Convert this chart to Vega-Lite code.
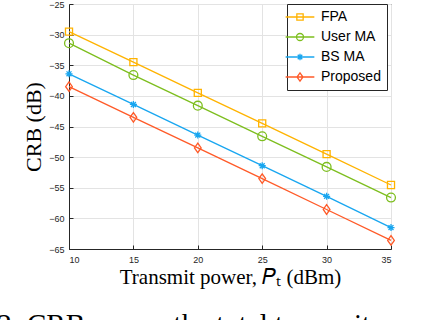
{
  "$schema": "https://vega.github.io/schema/vega-lite/v6.json",
  "width": 322,
  "height": 245,
  "autosize": {"type": "none"},
  "padding": {"left": 69, "top": 4, "right": 35, "bottom": 71},
  "background": "white",
  "title": {
    "text": "Fig. 2: CRB versus the total transmit power",
    "orient": "bottom",
    "anchor": "start",
    "frame": "group",
    "offset": 24,
    "dx": -125,
    "font": "Liberation Serif",
    "fontSize": 29,
    "fontWeight": "normal",
    "color": "black"
  },
  "data": {
    "values": [
      {"series": "FPA", "p": 10, "crb": -29.5},
      {"series": "FPA", "p": 15, "crb": -34.5},
      {"series": "FPA", "p": 20, "crb": -39.5},
      {"series": "FPA", "p": 25, "crb": -44.5},
      {"series": "FPA", "p": 30, "crb": -49.5},
      {"series": "FPA", "p": 35, "crb": -54.55},
      {"series": "User MA", "p": 10, "crb": -31.4},
      {"series": "User MA", "p": 15, "crb": -36.6},
      {"series": "User MA", "p": 20, "crb": -41.6},
      {"series": "User MA", "p": 25, "crb": -46.6},
      {"series": "User MA", "p": 30, "crb": -51.6},
      {"series": "User MA", "p": 35, "crb": -56.6},
      {"series": "BS MA", "p": 10, "crb": -36.4},
      {"series": "BS MA", "p": 15, "crb": -41.4},
      {"series": "BS MA", "p": 20, "crb": -46.4},
      {"series": "BS MA", "p": 25, "crb": -51.4},
      {"series": "BS MA", "p": 30, "crb": -56.4},
      {"series": "BS MA", "p": 35, "crb": -61.5},
      {"series": "Proposed", "p": 10, "crb": -38.5},
      {"series": "Proposed", "p": 15, "crb": -43.5},
      {"series": "Proposed", "p": 20, "crb": -48.5},
      {"series": "Proposed", "p": 25, "crb": -53.5},
      {"series": "Proposed", "p": 30, "crb": -58.55},
      {"series": "Proposed", "p": 35, "crb": -63.6}
    ]
  },
  "encoding": {
    "x": {
      "field": "p", "type": "quantitative",
      "scale": {"domain": [10, 35], "nice": false, "zero": false},
      "axis": {
        "values": [10, 15, 20, 25, 30, 35],
        "title": "Transmit power, 𝑃ₜ (dBm)",
        "titleFont": "Liberation Serif", "titleFontSize": 21, "titleFontWeight": "normal",
        "titleColor": "black", "titlePadding": 2,
        "labelFont": "Liberation Sans", "labelFontSize": 9, "labelColor": "#262626",
        "labelPadding": 10, "tickSize": -4, "tickColor": "#262626",
        "domainColor": "#262626",
        "grid": true, "gridColor": "#e3e3e3"
      }
    },
    "y": {
      "field": "crb", "type": "quantitative",
      "scale": {"domain": [-65, -25], "nice": false, "zero": false},
      "axis": {
        "values": [-65, -60, -55, -50, -45, -40, -35, -30, -25],
        "title": "CRB (dB)",
        "titleFont": "Liberation Serif", "titleFontSize": 22, "titleFontWeight": "normal",
        "titleColor": "black", "titlePadding": 3,
        "labelFont": "Liberation Sans", "labelFontSize": 9, "labelColor": "#262626",
        "labelPadding": 9, "tickSize": -4, "tickColor": "#262626",
        "domainColor": "#262626",
        "grid": true, "gridColor": "#e3e3e3"
      }
    }
  },
  "layer": [
    {
      "mark": {"type": "line", "strokeWidth": 1.3},
      "encoding": {
        "color": {
          "field": "series", "type": "nominal", "legend": null,
          "scale": {
            "domain": ["FPA", "User MA", "BS MA", "Proposed"],
            "range": ["#FFB300", "#7DBE1E", "#18A6F0", "#FF5A28"]
          }
        }
      }
    },
    {
      "mark": {"type": "point", "filled": false, "strokeWidth": 1.3, "size": 50, "opacity": 1},
      "encoding": {
        "color": {"field": "series", "type": "nominal", "legend": null},
        "shape": {
          "field": "series", "type": "nominal", "legend": null,
          "scale": {
            "domain": ["FPA", "User MA", "BS MA", "Proposed"],
            "range": [
              "M-1,-1H1V1H-1Z",
              "M-1.25,0A1.25,1.25,0,1,0,1.25,0A1.25,1.25,0,1,0,-1.25,0Z",
              "M-1,0L1,0M0,-1L0,1M-0.7,-0.7L0.7,0.7M-0.7,0.7L0.7,-0.7",
              "M0,-1.35L0.95,0L0,1.35L-0.95,0Z"
            ]
          }
        }
      }
    },
    {
      "mark": {"type": "point", "filled": false, "strokeWidth": 1.3, "size": 49, "opacity": 0},
      "encoding": {
        "color": {
          "field": "series", "type": "nominal",
          "legend": {
            "orient": "none", "legendX": 218, "legendY": 0,
            "title": null,
            "labelFont": "Liberation Sans", "labelFontSize": 14, "labelColor": "black",
            "symbolOpacity": 1, "symbolSize": 49, "symbolStrokeWidth": 1.3,
            "rowPadding": 6, "padding": 6, "labelOffset": 14,
            "strokeColor": "#262626", "fillColor": "white", "cornerRadius": 0
          }
        },
        "shape": {
          "field": "series", "type": "nominal",
          "scale": {
            "domain": ["FPA", "User MA", "BS MA", "Proposed"],
            "range": [
              "M-4.1,0H4.1M-0.9,-0.9H0.9V0.9H-0.9Z",
              "M-4.1,0H4.1M-1,0A1,1,0,1,0,1,0A1,1,0,1,0,-1,0Z",
              "M-4.1,0H4.1M0,-0.9L0,0.9M-0.65,-0.65L0.65,0.65M-0.65,0.65L0.65,-0.65",
              "M-4.1,0H4.1M0,-1.2L0.85,0L0,1.2L-0.85,0Z"
            ]
          },
          "legend": {
            "orient": "none", "legendX": 218, "legendY": 0,
            "title": null,
            "labelFont": "Liberation Sans", "labelFontSize": 14, "labelColor": "black",
            "symbolOpacity": 1, "symbolSize": 49, "symbolStrokeWidth": 1.3,
            "rowPadding": 6, "padding": 6, "labelOffset": 14,
            "strokeColor": "#262626", "fillColor": "white", "cornerRadius": 0
          }
        }
      }
    }
  ],
  "resolve": {"scale": {"shape": "independent"}, "legend": {"color": "independent", "shape": "independent"}},
  "config": {
    "view": {"stroke": "#262626", "strokeWidth": 1}
  }
}
